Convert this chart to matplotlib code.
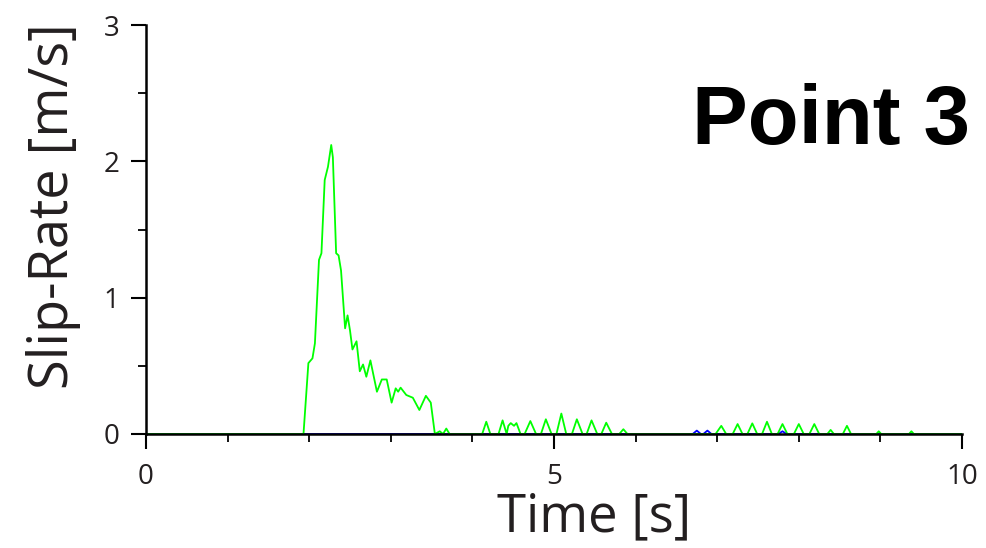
import matplotlib
matplotlib.use('Agg')
import matplotlib.pyplot as plt
from matplotlib.ticker import MultipleLocator

plt.rcParams['font.family'] = ['Open Sans', 'DejaVu Sans']

# green slip-rate trace (time [s], slip-rate [m/s])
green_t = [0.0, 1.93, 1.99, 2.04, 2.07, 2.12, 2.15, 2.19, 2.23, 2.27, 2.29, 2.33, 2.36,
           2.39, 2.44, 2.47, 2.50, 2.53, 2.58, 2.62, 2.66, 2.70, 2.75, 2.83, 2.89,
           2.95, 3.01, 3.06, 3.09, 3.12, 3.19, 3.27, 3.35, 3.43, 3.49, 3.54,
           3.60, 3.64, 3.68, 3.72,
           4.12, 4.17, 4.22, 4.32, 4.37, 4.42, 4.44, 4.47, 4.51, 4.54, 4.59,
           4.64, 4.71, 4.78, 4.84, 4.90, 4.97, 5.03, 5.09, 5.15, 5.22, 5.28, 5.35,
           5.40, 5.46, 5.53, 5.58, 5.64, 5.71, 5.80, 5.85, 5.90,
           6.98, 7.05, 7.11, 7.19, 7.25, 7.31, 7.37, 7.43, 7.49, 7.55, 7.61, 7.67,
           7.74, 7.80, 7.86, 7.94, 8.00, 8.06, 8.13, 8.19, 8.25, 8.35, 8.39, 8.43,
           8.54, 8.59, 8.64, 8.95, 8.98, 9.01, 9.35, 9.38, 9.41, 10.0]
green_v = [0.0, 0.0, 0.52, 0.555, 0.665, 1.277, 1.326, 1.863, 1.96, 2.12, 2.03, 1.326, 1.31,
           1.20, 0.775, 0.87, 0.76, 0.62, 0.68, 0.46, 0.51, 0.42, 0.54, 0.31, 0.40,
           0.40, 0.23, 0.335, 0.31, 0.34, 0.286, 0.266, 0.176, 0.28, 0.23, 0.0,
           0.02, 0.0, 0.04, 0.0,
           0.0, 0.09, 0.0, 0.0, 0.10, 0.0, 0.06, 0.08, 0.06, 0.08, 0.0,
           0.0, 0.095, 0.0, 0.0, 0.108, 0.0, 0.0, 0.15, 0.0, 0.0, 0.108, 0.0,
           0.0, 0.10, 0.0, 0.0, 0.083, 0.0, 0.0, 0.035, 0.0,
           0.0, 0.06, 0.0, 0.0, 0.073, 0.0, 0.0, 0.078, 0.0, 0.0, 0.09, 0.0,
           0.0, 0.073, 0.0, 0.0, 0.073, 0.0, 0.0, 0.073, 0.0, 0.0, 0.03, 0.0,
           0.0, 0.06, 0.0, 0.0, 0.02, 0.0, 0.0, 0.02, 0.0, 0.0]

# blue trace, mostly hidden under the axis line
blue_t = [0.0, 6.70, 6.75, 6.80, 6.83, 6.88, 6.93, 7.75, 7.80, 7.85, 10.0]
blue_v = [0.0, 0.0, 0.025, 0.0, 0.0, 0.025, 0.0, 0.0, 0.02, 0.0, 0.0]

ink = '#231f20'

fig = plt.figure(figsize=(9.87, 5.48), dpi=100)
ax = fig.add_axes([146 / 987, 1 - 434 / 548, (962 - 146) / 987, (434 - 25) / 548])

ax.plot(blue_t, blue_v, color='#0000ff', lw=1.3)
ax.plot(green_t, green_v, color='#00ff00', lw=1.3)

ax.set_xlim(0, 10)
ax.set_ylim(0, 3)
for side in ['top', 'right']:
    ax.spines[side].set_visible(False)
for side in ['left', 'bottom']:
    ax.spines[side].set_linewidth(1.8)
    ax.spines[side].set_color('black')

ax.xaxis.set_major_locator(MultipleLocator(5))
ax.xaxis.set_minor_locator(MultipleLocator(1))
ax.yaxis.set_major_locator(MultipleLocator(1))
ax.yaxis.set_minor_locator(MultipleLocator(0.5))
ax.tick_params(which='major', length=11, width=1.5, color='black', labelsize=20,
               labelcolor=ink)
ax.tick_params(axis='y', which='major', pad=8)
ax.tick_params(axis='x', which='major', pad=10)
ax.tick_params(which='minor', length=6, width=1.3, color='black')

# axis titles placed by their baselines
fig.text(594 / 987, 1 - 531 / 548, 'Time [s]', fontsize=38, color=ink,
         ha='center', va='baseline')
fig.text(68 / 987, 1 - 206 / 548, 'Slip-Rate [m/s]', fontsize=39, color=ink,
         rotation=90, rotation_mode='anchor', ha='center', va='baseline')

fig.text(970 / 987, 1 - 144 / 548, 'Point 3', fontsize=60, fontweight='bold',
         family='Liberation Sans', ha='right', va='baseline', color='black')

fig.savefig('out.png', dpi=100)
